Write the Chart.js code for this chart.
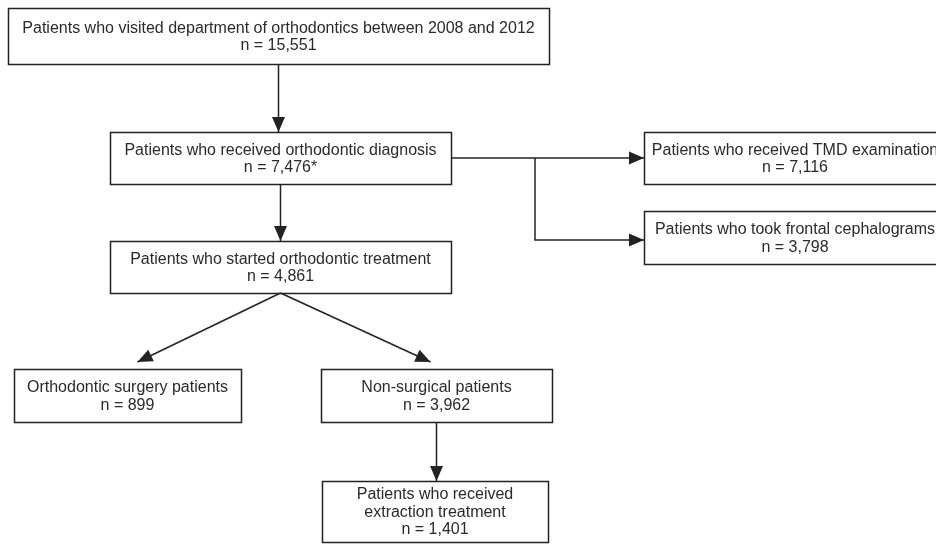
<!DOCTYPE html>
<html>
<head>
<meta charset="utf-8">
<script src="https://cdn.jsdelivr.net/npm/chart.js@4.4.1/dist/chart.umd.min.js"></script>
<style>
  html, body { margin: 0; padding: 0; background: #fff; }
  #wrap { width: 936px; height: 544px; position: relative; }
</style>
</head>
<body>
<div id="wrap"><canvas id="flowChart"></canvas></div>
<script>
// stages of the patient flow and their counts
var stages = [
    "Patients who visited department of orthodontics between 2008 and 2012",
    "Patients who received orthodontic diagnosis",
    "Patients who received TMD examination",
    "Patients who took frontal cephalograms",
    "Patients who started orthodontic treatment",
    "Orthodontic surgery patients",
    "Non-surgical patients",
    "Patients who received\nextraction treatment"
];
var counts = [15551, 7476, 7116, 3798, 4861, 899, 3962, 1401];
var countMarks = ["", "*", "", "", "", "", "", ""];

// links between stages: [from, to, kind]
var links = [
    [0, 1, "down"],
    [1, 4, "down"],
    [1, 2, "right"],
    [1, 3, "elbow"],
    [4, 5, "diag"],
    [4, 6, "diag"],
    [6, 7, "down"]
];

// layout (box centre x/y and size, in page units)
var boxX = [278.5, 280.5, 795, 795, 280.5, 127.5, 436.5, 435];
var boxY = [36, 158, 158, 237.5, 267, 395.5, 395.5, 511.5];
var boxW = [541, 341, 302, 302, 341, 227, 231, 226];
var boxH = [56, 52, 52, 53, 52, 53, 53, 61];

var ink = "#222";
var fontFamily = "'Liberation Sans', Arial, sans-serif";

var points = [];
for (let i = 0; i < stages.length; i++) {
    points.push({ x: boxX[i], y: boxY[i] });
}

function arrowHead(ctx, x0, y0, x1, y1) {
    var ang = Math.atan2(y1 - y0, x1 - x0);
    var len = 15, half = 6.5;
    ctx.beginPath();
    ctx.moveTo(x1, y1);
    ctx.lineTo(x1 - len * Math.cos(ang) + half * Math.sin(ang), y1 - len * Math.sin(ang) - half * Math.cos(ang));
    ctx.lineTo(x1 - len * Math.cos(ang) - half * Math.sin(ang), y1 - len * Math.sin(ang) + half * Math.cos(ang));
    ctx.closePath();
    ctx.fill();
}

var flowPlugin = {
    id: "flow",
    afterDatasetsDraw: function(chart) {
        var ctx = chart.ctx;
        var sx = chart.scales.x, sy = chart.scales.y;
        var meta = chart.getDatasetMeta(0);
        var box = function(i) {
            var p = meta.data[i];
            var w = sx.getPixelForValue(boxW[i]) - sx.getPixelForValue(0);
            var h = sy.getPixelForValue(boxH[i]) - sy.getPixelForValue(0);
            return { cx: p.x, cy: p.y, l: p.x - w / 2, r: p.x + w / 2, t: p.y - h / 2, b: p.y + h / 2 };
        };
        ctx.save();
        ctx.strokeStyle = ink;
        ctx.fillStyle = ink;
        ctx.lineWidth = 1.5;

        // boxes and labels
        for (let i = 0; i < stages.length; i++) {
            var b = box(i);
            ctx.fillStyle = "#fff";
            ctx.fillRect(b.l, b.t, b.r - b.l, b.b - b.t);
            ctx.strokeRect(Math.round(b.l) + 0.5, Math.round(b.t) + 0.5, Math.round(b.r - b.l), Math.round(b.b - b.t));
            var lines = stages[i].split("\n");
            lines.push("n = " + counts[i].toLocaleString("en-US") + countMarks[i]);
            ctx.fillStyle = "#2a2a2a";
            ctx.font = "16px " + fontFamily;
            ctx.textAlign = "center";
            ctx.textBaseline = "middle";
            var lh = 17.5;
            var y0 = b.cy + 1 - (lines.length - 1) * lh / 2;
            lines.forEach(function(t, k) {
                ctx.fillText(t, b.cx, y0 + k * lh);
            });
        }

        // connectors
        links.forEach(function(lk) {
            var a = box(lk[0]), c = box(lk[1]);
            var x0, y0, x1, y1;
            ctx.beginPath();
            if (lk[2] === "down") {
                x0 = a.cx; y0 = a.b; x1 = a.cx; y1 = c.t;
                ctx.moveTo(x0, y0);
            } else if (lk[2] === "right") {
                x0 = a.r; y0 = a.cy; x1 = c.l; y1 = a.cy;
                ctx.moveTo(x0, y0);
            } else if (lk[2] === "elbow") {
                var bx = a.r + 84;
                ctx.moveTo(bx, a.cy);
                ctx.lineTo(bx, c.cy + 2.5);
                x0 = bx; y0 = c.cy + 2.5; x1 = c.l; y1 = c.cy + 2.5;
            } else {
                x0 = a.cx; y0 = a.b;
                x1 = c.cx + (a.cx > c.cx ? 10 : -6);
                y1 = c.t - 7;
                ctx.moveTo(x0, y0);
            }
            ctx.lineTo(x1, y1);
            ctx.stroke();
            ctx.fillStyle = ink;
            arrowHead(ctx, x0, y0, x1, y1);
        });
        ctx.restore();
    }
};

var flowChart = new Chart(document.getElementById("flowChart"), {
    type: "scatter",
    data: {
        datasets: [{
            label: "Stages",
            data: points,
            pointRadius: 0,
            pointHoverRadius: 0
        }]
    },
    options: {
        responsive: true,
        maintainAspectRatio: false,
        animation: false,
        layout: { padding: 0 },
        plugins: {
            legend: { display: false },
            tooltip: { enabled: false }
        },
        scales: {
            x: { type: "linear", min: 0, max: 936, display: false },
            y: { type: "linear", min: 0, max: 544, reverse: true, display: false }
        }
    },
    plugins: [flowPlugin]
});
</script>
</body>
</html>
